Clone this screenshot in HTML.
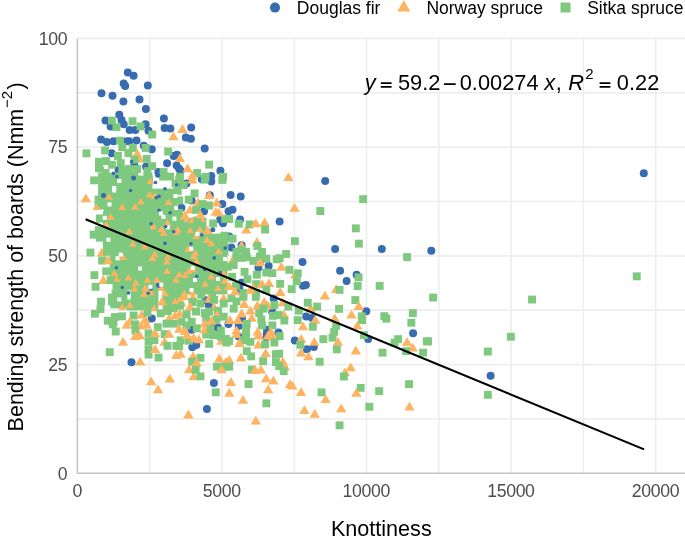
<!DOCTYPE html><html><head><meta charset="utf-8"><style>html,body{margin:0;padding:0;background:#fff;}svg{display:block;will-change:transform;}text{font-family:"Liberation Sans",sans-serif;}</style></head><body>
<svg width="685" height="537" viewBox="0 0 685 537">
<rect width="685" height="537" fill="#fff"/>
<path d="M149.7 38.4V473.3M222.0 38.4V473.3M294.3 38.4V473.3M366.5 38.4V473.3M438.8 38.4V473.3M511.1 38.4V473.3M583.4 38.4V473.3M655.7 38.4V473.3M77.4 418.9H685M77.4 364.6H685M77.4 310.2H685M77.4 255.8H685M77.4 201.5H685M77.4 147.1H685M77.4 92.8H685M77.4 38.4H685" stroke="#EEEEEE" stroke-width="1.7" fill="none"/>
<path d="M77.4 38.4V473.3H685" stroke="#C4C4C4" stroke-width="1.5" fill="none"/>
<circle cx="643.8" cy="173.2" r="4" fill="#386CB0"/>
<circle cx="381.8" cy="249.1" r="4" fill="#386CB0"/>
<circle cx="431.3" cy="250.7" r="4" fill="#386CB0"/>
<circle cx="413.1" cy="333.3" r="4" fill="#386CB0"/>
<circle cx="490.6" cy="375.8" r="4" fill="#386CB0"/>
<circle cx="325.2" cy="180.9" r="4" fill="#386CB0"/>
<circle cx="279.6" cy="221.4" r="4" fill="#386CB0"/>
<circle cx="335.1" cy="248.9" r="4" fill="#386CB0"/>
<circle cx="302.5" cy="262.0" r="4" fill="#386CB0"/>
<circle cx="340.1" cy="270.8" r="4" fill="#386CB0"/>
<circle cx="356.6" cy="274.7" r="4" fill="#386CB0"/>
<circle cx="303.0" cy="285.7" r="4" fill="#386CB0"/>
<circle cx="305.9" cy="285.0" r="4" fill="#386CB0"/>
<circle cx="346.6" cy="281.0" r="4" fill="#386CB0"/>
<circle cx="366.3" cy="311.3" r="4" fill="#386CB0"/>
<circle cx="306.2" cy="316.4" r="4" fill="#386CB0"/>
<circle cx="312.0" cy="317.9" r="4" fill="#386CB0"/>
<circle cx="278.5" cy="332.5" r="4" fill="#386CB0"/>
<circle cx="368.2" cy="339.1" r="4" fill="#386CB0"/>
<circle cx="294.8" cy="340.5" r="4" fill="#386CB0"/>
<circle cx="306.9" cy="349.3" r="4" fill="#386CB0"/>
<circle cx="313.8" cy="347.1" r="4" fill="#386CB0"/>
<circle cx="213.9" cy="383.0" r="4" fill="#386CB0"/>
<circle cx="206.9" cy="408.9" r="4" fill="#386CB0"/>
<circle cx="196.3" cy="345.0" r="4" fill="#386CB0"/>
<circle cx="192.3" cy="347.2" r="4" fill="#386CB0"/>
<circle cx="238.7" cy="336.6" r="4" fill="#386CB0"/>
<circle cx="266.8" cy="333.7" r="4" fill="#386CB0"/>
<circle cx="266.4" cy="337.4" r="4" fill="#386CB0"/>
<circle cx="205.5" cy="300.2" r="4" fill="#386CB0"/>
<circle cx="208.8" cy="305.0" r="4" fill="#386CB0"/>
<circle cx="191.6" cy="329.8" r="4" fill="#386CB0"/>
<circle cx="213.5" cy="326.8" r="4" fill="#386CB0"/>
<circle cx="217.9" cy="327.6" r="4" fill="#386CB0"/>
<circle cx="273.7" cy="298.4" r="4" fill="#386CB0"/>
<circle cx="242.0" cy="318.1" r="4" fill="#386CB0"/>
<circle cx="272.3" cy="312.2" r="4" fill="#386CB0"/>
<circle cx="228.5" cy="324.0" r="4" fill="#386CB0"/>
<circle cx="238.7" cy="326.1" r="4" fill="#386CB0"/>
<circle cx="267.1" cy="329.8" r="4" fill="#386CB0"/>
<circle cx="261.7" cy="259.4" r="4" fill="#386CB0"/>
<circle cx="258.4" cy="267.8" r="4" fill="#386CB0"/>
<circle cx="268.6" cy="266.0" r="4" fill="#386CB0"/>
<circle cx="241.6" cy="282.7" r="4" fill="#386CB0"/>
<circle cx="239.4" cy="289.3" r="4" fill="#386CB0"/>
<circle cx="240.1" cy="219.6" r="4" fill="#386CB0"/>
<circle cx="229.2" cy="236.4" r="4" fill="#386CB0"/>
<circle cx="231.4" cy="247.4" r="4" fill="#386CB0"/>
<circle cx="241.6" cy="245.2" r="4" fill="#386CB0"/>
<circle cx="220.1" cy="219.6" r="4" fill="#386CB0"/>
<circle cx="223.0" cy="223.3" r="4" fill="#386CB0"/>
<circle cx="230.6" cy="194.9" r="4" fill="#386CB0"/>
<circle cx="240.7" cy="196.6" r="4" fill="#386CB0"/>
<circle cx="232.5" cy="209.8" r="4" fill="#386CB0"/>
<circle cx="228.5" cy="211.3" r="4" fill="#386CB0"/>
<circle cx="186.5" cy="183.6" r="4" fill="#386CB0"/>
<circle cx="177.7" cy="185.0" r="4" fill="#386CB0"/>
<circle cx="201.8" cy="179.2" r="4" fill="#386CB0"/>
<circle cx="211.3" cy="181.4" r="4" fill="#386CB0"/>
<circle cx="209.8" cy="195.2" r="4" fill="#386CB0"/>
<circle cx="191.6" cy="200.4" r="4" fill="#386CB0"/>
<circle cx="181.4" cy="207.7" r="4" fill="#386CB0"/>
<circle cx="222.3" cy="204.0" r="4" fill="#386CB0"/>
<circle cx="204.0" cy="211.3" r="4" fill="#386CB0"/>
<circle cx="190.9" cy="138.7" r="4" fill="#386CB0"/>
<circle cx="185.8" cy="137.5" r="4" fill="#386CB0"/>
<circle cx="204.7" cy="148.6" r="4" fill="#386CB0"/>
<circle cx="177.0" cy="154.8" r="4" fill="#386CB0"/>
<circle cx="179.2" cy="168.7" r="4" fill="#386CB0"/>
<circle cx="180.6" cy="170.8" r="4" fill="#386CB0"/>
<circle cx="220.4" cy="170.8" r="4" fill="#386CB0"/>
<circle cx="211.3" cy="176.0" r="4" fill="#386CB0"/>
<circle cx="191.2" cy="127.5" r="4" fill="#386CB0"/>
<circle cx="119.3" cy="114.7" r="4" fill="#386CB0"/>
<circle cx="163.9" cy="118.4" r="4" fill="#386CB0"/>
<circle cx="105.5" cy="120.6" r="4" fill="#386CB0"/>
<circle cx="121.5" cy="119.9" r="4" fill="#386CB0"/>
<circle cx="123.7" cy="124.2" r="4" fill="#386CB0"/>
<circle cx="145.6" cy="124.2" r="4" fill="#386CB0"/>
<circle cx="110.6" cy="126.4" r="4" fill="#386CB0"/>
<circle cx="129.6" cy="130.1" r="4" fill="#386CB0"/>
<circle cx="135.4" cy="130.1" r="4" fill="#386CB0"/>
<circle cx="164.6" cy="127.9" r="4" fill="#386CB0"/>
<circle cx="170.4" cy="128.6" r="4" fill="#386CB0"/>
<circle cx="148.5" cy="130.8" r="4" fill="#386CB0"/>
<circle cx="101.1" cy="139.5" r="4" fill="#386CB0"/>
<circle cx="106.9" cy="142.0" r="4" fill="#386CB0"/>
<circle cx="113.5" cy="141.3" r="4" fill="#386CB0"/>
<circle cx="126.6" cy="141.3" r="4" fill="#386CB0"/>
<circle cx="111.7" cy="153.3" r="4" fill="#386CB0"/>
<circle cx="118.6" cy="169.8" r="4" fill="#386CB0"/>
<circle cx="136.5" cy="140.6" r="4" fill="#386CB0"/>
<circle cx="129.2" cy="141.3" r="4" fill="#386CB0"/>
<circle cx="143.8" cy="145.7" r="4" fill="#386CB0"/>
<circle cx="151.8" cy="149.3" r="4" fill="#386CB0"/>
<circle cx="134.3" cy="163.9" r="4" fill="#386CB0"/>
<circle cx="146.0" cy="166.8" r="4" fill="#386CB0"/>
<circle cx="167.1" cy="163.2" r="4" fill="#386CB0"/>
<circle cx="173.7" cy="155.9" r="4" fill="#386CB0"/>
<circle cx="176.6" cy="165.4" r="4" fill="#386CB0"/>
<circle cx="158.4" cy="172.0" r="4" fill="#386CB0"/>
<circle cx="151.8" cy="318.5" r="4" fill="#386CB0"/>
<circle cx="131.5" cy="362.3" r="4" fill="#386CB0"/>
<rect x="176.6" y="254.6" width="50.8" height="39.8" fill="#7FC97F"/>
<rect x="176.6" y="217.6" width="29.8" height="37.8" fill="#7FC97F"/>
<rect x="205.6" y="233.6" width="22.8" height="21.8" fill="#7FC97F"/>
<rect x="98.1" y="172.6" width="29.3" height="23.8" fill="#7FC97F"/>
<rect x="94.6" y="195.6" width="32.8" height="13.8" fill="#7FC97F"/>
<rect x="103.6" y="208.6" width="23.8" height="3.8" fill="#7FC97F"/>
<rect x="126.6" y="175.6" width="25.8" height="36.8" fill="#7FC97F"/>
<rect x="151.6" y="188.6" width="25.8" height="23.8" fill="#7FC97F"/>
<rect x="126.6" y="172.6" width="11.8" height="3.8" fill="#7FC97F"/>
<rect x="143.6" y="172.6" width="8.8" height="3.8" fill="#7FC97F"/>
<rect x="102.9" y="211.6" width="24.5" height="39.8" fill="#7FC97F"/>
<rect x="95.9" y="214.5" width="7.8" height="8.1" fill="#7FC97F"/>
<rect x="94.8" y="226.2" width="8.9" height="5.2" fill="#7FC97F"/>
<rect x="89.7" y="230.6" width="14.0" height="8.1" fill="#7FC97F"/>
<rect x="95.9" y="237.9" width="7.8" height="3.7" fill="#7FC97F"/>
<rect x="126.6" y="211.6" width="50.8" height="39.8" fill="#7FC97F"/>
<rect x="109.6" y="250.6" width="17.8" height="31.8" fill="#7FC97F"/>
<rect x="112.6" y="281.6" width="14.8" height="8.8" fill="#7FC97F"/>
<rect x="126.6" y="250.6" width="50.8" height="39.8" fill="#7FC97F"/>
<rect x="111.6" y="289.6" width="15.8" height="4.8" fill="#7FC97F"/>
<rect x="108.0" y="293.6" width="19.4" height="11.8" fill="#7FC97F"/>
<rect x="110.2" y="304.6" width="17.2" height="3.8" fill="#7FC97F"/>
<rect x="130.6" y="289.6" width="27.8" height="20.8" fill="#7FC97F"/>
<rect x="162.6" y="289.6" width="14.8" height="20.8" fill="#7FC97F"/>
<rect x="126.6" y="299.6" width="4.8" height="10.8" fill="#7FC97F"/>
<rect x="632.8" y="272.4" width="7.9" height="7.9" fill="#7FC97F"/>
<rect x="403.1" y="253.1" width="7.9" height="7.9" fill="#7FC97F"/>
<rect x="375.7" y="281.9" width="7.9" height="7.9" fill="#7FC97F"/>
<rect x="429.2" y="293.6" width="7.9" height="7.9" fill="#7FC97F"/>
<rect x="528.1" y="295.6" width="7.9" height="7.9" fill="#7FC97F"/>
<rect x="506.9" y="332.8" width="7.9" height="7.9" fill="#7FC97F"/>
<rect x="424.2" y="337.4" width="7.9" height="7.9" fill="#7FC97F"/>
<rect x="394.2" y="335.2" width="7.9" height="7.9" fill="#7FC97F"/>
<rect x="390.6" y="338.6" width="7.9" height="7.9" fill="#7FC97F"/>
<path d="M401.8 345.9L412.2 345.9L407.0 337.1Z" fill="#FDB462"/>
<path d="M407.5 351.6L417.9 351.6L412.7 342.7Z" fill="#FDB462"/>
<rect x="422.9" y="337.4" width="7.9" height="7.9" fill="#7FC97F"/>
<rect x="378.6" y="348.7" width="7.9" height="7.9" fill="#7FC97F"/>
<rect x="402.2" y="347.2" width="7.9" height="7.9" fill="#7FC97F"/>
<rect x="419.1" y="348.7" width="7.9" height="7.9" fill="#7FC97F"/>
<rect x="483.9" y="347.6" width="7.9" height="7.9" fill="#7FC97F"/>
<rect x="405.1" y="380.2" width="7.9" height="7.9" fill="#7FC97F"/>
<rect x="375.2" y="387.2" width="7.9" height="7.9" fill="#7FC97F"/>
<path d="M404.3 410.6L414.7 410.6L409.5 401.8Z" fill="#FDB462"/>
<rect x="483.9" y="390.9" width="7.9" height="7.9" fill="#7FC97F"/>
<path d="M283.2 181.0L293.6 181.0L288.4 172.2Z" fill="#FDB462"/>
<rect x="359.2" y="195.2" width="7.9" height="7.9" fill="#7FC97F"/>
<path d="M289.3 211.8L299.7 211.8L294.5 203.0Z" fill="#FDB462"/>
<rect x="316.4" y="207.1" width="7.9" height="7.9" fill="#7FC97F"/>
<rect x="351.9" y="224.4" width="7.9" height="7.9" fill="#7FC97F"/>
<rect x="290.9" y="237.2" width="7.9" height="7.9" fill="#7FC97F"/>
<rect x="354.9" y="239.7" width="7.9" height="7.9" fill="#7FC97F"/>
<rect x="282.2" y="250.0" width="7.9" height="7.9" fill="#7FC97F"/>
<rect x="275.7" y="254.2" width="7.9" height="7.9" fill="#7FC97F"/>
<path d="M276.2 270.8L286.6 270.8L281.4 261.9Z" fill="#FDB462"/>
<rect x="285.4" y="265.9" width="7.9" height="7.9" fill="#7FC97F"/>
<path d="M290.0 278.4L300.4 278.4L295.2 269.6Z" fill="#FDB462"/>
<rect x="354.6" y="273.4" width="7.9" height="7.9" fill="#7FC97F"/>
<rect x="293.8" y="269.4" width="7.9" height="7.9" fill="#7FC97F"/>
<rect x="276.2" y="279.9" width="7.9" height="7.9" fill="#7FC97F"/>
<rect x="292.8" y="277.4" width="7.9" height="7.9" fill="#7FC97F"/>
<rect x="287.7" y="285.2" width="7.9" height="7.9" fill="#7FC97F"/>
<path d="M330.9 293.1L341.3 293.1L336.1 284.2Z" fill="#FDB462"/>
<rect x="335.6" y="285.9" width="7.9" height="7.9" fill="#7FC97F"/>
<rect x="353.7" y="282.1" width="7.9" height="7.9" fill="#7FC97F"/>
<path d="M275.0 295.9L285.4 295.9L280.2 287.1Z" fill="#FDB462"/>
<path d="M319.7 299.6L330.1 299.6L324.9 290.8Z" fill="#FDB462"/>
<rect x="351.4" y="296.1" width="7.9" height="7.9" fill="#7FC97F"/>
<path d="M277.6 306.2L288.0 306.2L282.8 297.4Z" fill="#FDB462"/>
<rect x="284.4" y="302.6" width="7.9" height="7.9" fill="#7FC97F"/>
<path d="M305.4 312.1L315.8 312.1L310.6 303.2Z" fill="#FDB462"/>
<rect x="303.8" y="298.7" width="7.9" height="7.9" fill="#7FC97F"/>
<rect x="313.2" y="302.6" width="7.9" height="7.9" fill="#7FC97F"/>
<rect x="335.1" y="304.9" width="7.9" height="7.9" fill="#7FC97F"/>
<path d="M353.6 309.9L364.0 309.9L358.8 301.1Z" fill="#FDB462"/>
<rect x="294.9" y="306.7" width="7.9" height="7.9" fill="#7FC97F"/>
<path d="M278.8 318.6L289.2 318.6L284.0 309.8Z" fill="#FDB462"/>
<rect x="274.6" y="311.1" width="7.9" height="7.9" fill="#7FC97F"/>
<path d="M310.0 323.8L320.4 323.8L315.2 314.9Z" fill="#FDB462"/>
<path d="M346.3 318.6L356.7 318.6L351.5 309.8Z" fill="#FDB462"/>
<rect x="357.8" y="312.4" width="7.9" height="7.9" fill="#7FC97F"/>
<rect x="358.1" y="316.2" width="7.9" height="7.9" fill="#7FC97F"/>
<path d="M329.5 322.3L339.9 322.3L334.7 313.4Z" fill="#FDB462"/>
<rect x="280.4" y="316.6" width="7.9" height="7.9" fill="#7FC97F"/>
<rect x="293.8" y="316.2" width="7.9" height="7.9" fill="#7FC97F"/>
<path d="M297.8 330.3L308.2 330.3L303.0 321.4Z" fill="#FDB462"/>
<rect x="308.9" y="322.8" width="7.9" height="7.9" fill="#7FC97F"/>
<rect x="332.2" y="321.9" width="7.9" height="7.9" fill="#7FC97F"/>
<path d="M352.1 329.6L362.5 329.6L357.3 320.8Z" fill="#FDB462"/>
<rect x="330.2" y="327.9" width="7.9" height="7.9" fill="#7FC97F"/>
<rect x="275.7" y="332.2" width="7.9" height="7.9" fill="#7FC97F"/>
<rect x="359.9" y="331.2" width="7.9" height="7.9" fill="#7FC97F"/>
<rect x="319.4" y="335.2" width="7.9" height="7.9" fill="#7FC97F"/>
<rect x="328.6" y="333.7" width="7.9" height="7.9" fill="#7FC97F"/>
<path d="M295.9 342.8L306.3 342.8L301.1 333.9Z" fill="#FDB462"/>
<path d="M332.8 345.8L343.2 345.8L338.0 336.9Z" fill="#FDB462"/>
<path d="M309.0 345.8L319.4 345.8L314.2 336.9Z" fill="#FDB462"/>
<rect x="296.4" y="340.9" width="7.9" height="7.9" fill="#7FC97F"/>
<rect x="332.9" y="345.4" width="7.9" height="7.9" fill="#7FC97F"/>
<path d="M350.6 354.4L361.0 354.4L355.8 345.6Z" fill="#FDB462"/>
<path d="M295.9 356.6L306.3 356.6L301.1 347.8Z" fill="#FDB462"/>
<path d="M303.2 360.3L313.6 360.3L308.4 351.4Z" fill="#FDB462"/>
<rect x="275.2" y="349.8" width="7.9" height="7.9" fill="#7FC97F"/>
<rect x="315.7" y="357.8" width="7.9" height="7.9" fill="#7FC97F"/>
<path d="M277.6 365.4L288.0 365.4L282.8 356.6Z" fill="#FDB462"/>
<path d="M279.8 370.6L290.2 370.6L285.0 361.7Z" fill="#FDB462"/>
<rect x="275.2" y="362.2" width="7.9" height="7.9" fill="#7FC97F"/>
<rect x="279.7" y="367.2" width="7.9" height="7.9" fill="#7FC97F"/>
<path d="M345.5 371.2L355.9 371.2L350.7 362.4Z" fill="#FDB462"/>
<path d="M339.7 376.3L350.1 376.3L344.9 367.4Z" fill="#FDB462"/>
<path d="M284.9 388.1L295.3 388.1L290.1 379.2Z" fill="#FDB462"/>
<path d="M287.1 389.6L297.5 389.6L292.3 380.7Z" fill="#FDB462"/>
<path d="M295.9 396.1L306.3 396.1L301.1 387.2Z" fill="#FDB462"/>
<rect x="317.6" y="388.4" width="7.9" height="7.9" fill="#7FC97F"/>
<path d="M320.4 403.1L330.8 403.1L325.6 394.2Z" fill="#FDB462"/>
<rect x="339.9" y="372.6" width="7.9" height="7.9" fill="#7FC97F"/>
<rect x="356.7" y="383.9" width="7.9" height="7.9" fill="#7FC97F"/>
<path d="M351.1 396.8L361.5 396.8L356.3 387.9Z" fill="#FDB462"/>
<rect x="365.4" y="402.8" width="7.9" height="7.9" fill="#7FC97F"/>
<path d="M299.2 414.1L309.6 414.1L304.4 405.2Z" fill="#FDB462"/>
<path d="M309.5 417.8L319.9 417.8L314.7 408.9Z" fill="#FDB462"/>
<path d="M336.0 412.2L346.4 412.2L341.2 403.4Z" fill="#FDB462"/>
<rect x="335.6" y="421.4" width="7.9" height="7.9" fill="#7FC97F"/>
<path d="M188.6 380.1L199.0 380.1L193.8 371.2Z" fill="#FDB462"/>
<rect x="196.5" y="372.4" width="7.9" height="7.9" fill="#7FC97F"/>
<path d="M225.8 385.9L236.2 385.9L231.0 377.1Z" fill="#FDB462"/>
<rect x="244.6" y="380.1" width="7.9" height="7.9" fill="#7FC97F"/>
<path d="M260.9 382.2L271.3 382.2L266.1 373.4Z" fill="#FDB462"/>
<path d="M268.2 384.4L278.6 384.4L273.4 375.6Z" fill="#FDB462"/>
<rect x="211.8" y="388.4" width="7.9" height="7.9" fill="#7FC97F"/>
<path d="M224.1 396.8L234.5 396.8L229.3 387.9Z" fill="#FDB462"/>
<path d="M263.0 393.2L273.4 393.2L268.2 384.4Z" fill="#FDB462"/>
<path d="M237.9 403.8L248.3 403.8L243.1 394.9Z" fill="#FDB462"/>
<rect x="262.4" y="399.4" width="7.9" height="7.9" fill="#7FC97F"/>
<path d="M183.2 418.4L193.6 418.4L188.4 409.6Z" fill="#FDB462"/>
<path d="M250.6 424.6L261.0 424.6L255.8 415.8Z" fill="#FDB462"/>
<path d="M146.0 385.2L156.4 385.2L151.2 376.4Z" fill="#FDB462"/>
<path d="M152.8 393.2L163.2 393.2L158.0 384.4Z" fill="#FDB462"/>
<path d="M164.6 382.6L175.0 382.6L169.8 373.7Z" fill="#FDB462"/>
<rect x="176.7" y="336.4" width="7.9" height="7.9" fill="#7FC97F"/>
<rect x="184.8" y="336.8" width="7.9" height="7.9" fill="#7FC97F"/>
<rect x="175.2" y="342.2" width="7.9" height="7.9" fill="#7FC97F"/>
<path d="M182.0 338.9L192.4 338.9L187.2 330.1Z" fill="#FDB462"/>
<path d="M188.6 341.8L199.0 341.8L193.8 332.9Z" fill="#FDB462"/>
<path d="M193.7 343.2L204.1 343.2L198.9 334.4Z" fill="#FDB462"/>
<path d="M216.3 344.8L226.7 344.8L221.5 335.9Z" fill="#FDB462"/>
<rect x="202.2" y="330.6" width="7.9" height="7.9" fill="#7FC97F"/>
<rect x="209.6" y="331.2" width="7.9" height="7.9" fill="#7FC97F"/>
<rect x="216.9" y="332.7" width="7.9" height="7.9" fill="#7FC97F"/>
<rect x="222.0" y="334.9" width="7.9" height="7.9" fill="#7FC97F"/>
<rect x="222.7" y="338.6" width="7.9" height="7.9" fill="#7FC97F"/>
<rect x="205.2" y="339.9" width="7.9" height="7.9" fill="#7FC97F"/>
<path d="M175.4 357.8L185.8 357.8L180.6 348.9Z" fill="#FDB462"/>
<rect x="196.5" y="353.9" width="7.9" height="7.9" fill="#7FC97F"/>
<path d="M187.9 360.1L198.3 360.1L193.1 351.2Z" fill="#FDB462"/>
<rect x="188.1" y="357.9" width="7.9" height="7.9" fill="#7FC97F"/>
<path d="M191.5 366.6L201.9 366.6L196.7 357.8Z" fill="#FDB462"/>
<path d="M214.1 362.2L224.5 362.2L219.3 353.4Z" fill="#FDB462"/>
<path d="M220.7 365.9L231.1 365.9L225.9 357.1Z" fill="#FDB462"/>
<rect x="212.9" y="362.7" width="7.9" height="7.9" fill="#7FC97F"/>
<rect x="220.2" y="362.7" width="7.9" height="7.9" fill="#7FC97F"/>
<path d="M183.8 373.2L194.2 373.2L189.0 364.4Z" fill="#FDB462"/>
<rect x="191.7" y="365.9" width="7.9" height="7.9" fill="#7FC97F"/>
<path d="M216.3 373.2L226.7 373.2L221.5 364.4Z" fill="#FDB462"/>
<path d="M231.3 338.1L241.7 338.1L236.5 329.2Z" fill="#FDB462"/>
<path d="M253.2 339.6L263.6 339.6L258.4 330.8Z" fill="#FDB462"/>
<path d="M262.7 339.6L273.1 339.6L267.9 330.8Z" fill="#FDB462"/>
<path d="M267.1 340.3L277.5 340.3L272.3 331.4Z" fill="#FDB462"/>
<rect x="242.1" y="330.9" width="7.9" height="7.9" fill="#7FC97F"/>
<rect x="225.2" y="337.1" width="7.9" height="7.9" fill="#7FC97F"/>
<rect x="239.9" y="336.4" width="7.9" height="7.9" fill="#7FC97F"/>
<rect x="246.5" y="337.9" width="7.9" height="7.9" fill="#7FC97F"/>
<path d="M234.2 346.9L244.6 346.9L239.4 338.1Z" fill="#FDB462"/>
<path d="M253.2 348.4L263.6 348.4L258.4 339.6Z" fill="#FDB462"/>
<rect x="261.1" y="340.4" width="7.9" height="7.9" fill="#7FC97F"/>
<rect x="270.4" y="338.6" width="7.9" height="7.9" fill="#7FC97F"/>
<rect x="242.8" y="347.2" width="7.9" height="7.9" fill="#7FC97F"/>
<rect x="247.2" y="352.4" width="7.9" height="7.9" fill="#7FC97F"/>
<path d="M260.5 357.1L270.9 357.1L265.7 348.2Z" fill="#FDB462"/>
<path d="M235.7 361.6L246.1 361.6L240.9 352.7Z" fill="#FDB462"/>
<path d="M224.0 363.8L234.4 363.8L229.2 354.9Z" fill="#FDB462"/>
<rect x="225.2" y="362.7" width="7.9" height="7.9" fill="#7FC97F"/>
<rect x="259.2" y="357.2" width="7.9" height="7.9" fill="#7FC97F"/>
<rect x="271.9" y="350.2" width="7.9" height="7.9" fill="#7FC97F"/>
<rect x="271.9" y="358.2" width="7.9" height="7.9" fill="#7FC97F"/>
<rect x="247.9" y="365.6" width="7.9" height="7.9" fill="#7FC97F"/>
<path d="M249.9 373.9L260.3 373.9L255.1 365.1Z" fill="#FDB462"/>
<path d="M255.7 373.6L266.1 373.6L260.9 364.7Z" fill="#FDB462"/>
<rect x="175.2" y="292.2" width="7.9" height="7.9" fill="#7FC97F"/>
<rect x="197.2" y="290.8" width="7.9" height="7.9" fill="#7FC97F"/>
<rect x="208.1" y="292.2" width="7.9" height="7.9" fill="#7FC97F"/>
<path d="M179.1 299.9L189.5 299.9L184.3 291.1Z" fill="#FDB462"/>
<path d="M187.9 301.3L198.3 301.3L193.1 292.4Z" fill="#FDB462"/>
<path d="M174.0 305.1L184.4 305.1L179.2 296.2Z" fill="#FDB462"/>
<path d="M176.2 306.4L186.6 306.4L181.4 297.6Z" fill="#FDB462"/>
<rect x="188.4" y="298.1" width="7.9" height="7.9" fill="#7FC97F"/>
<rect x="196.5" y="299.6" width="7.9" height="7.9" fill="#7FC97F"/>
<path d="M203.9 302.8L214.3 302.8L209.1 293.9Z" fill="#FDB462"/>
<rect x="210.2" y="295.9" width="7.9" height="7.9" fill="#7FC97F"/>
<path d="M218.5 302.1L228.9 302.1L223.7 293.2Z" fill="#FDB462"/>
<rect x="219.8" y="299.6" width="7.9" height="7.9" fill="#7FC97F"/>
<path d="M184.9 310.8L195.3 310.8L190.1 301.9Z" fill="#FDB462"/>
<path d="M209.0 311.2L219.4 311.2L214.2 302.4Z" fill="#FDB462"/>
<rect x="176.0" y="301.8" width="7.9" height="7.9" fill="#7FC97F"/>
<path d="M174.7 317.4L185.1 317.4L179.9 308.6Z" fill="#FDB462"/>
<rect x="182.6" y="310.4" width="7.9" height="7.9" fill="#7FC97F"/>
<rect x="192.1" y="307.6" width="7.9" height="7.9" fill="#7FC97F"/>
<rect x="200.8" y="309.1" width="7.9" height="7.9" fill="#7FC97F"/>
<rect x="205.2" y="307.6" width="7.9" height="7.9" fill="#7FC97F"/>
<rect x="214.0" y="306.9" width="7.9" height="7.9" fill="#7FC97F"/>
<path d="M211.9 318.8L222.3 318.8L217.1 309.9Z" fill="#FDB462"/>
<rect x="219.8" y="312.7" width="7.9" height="7.9" fill="#7FC97F"/>
<rect x="212.5" y="315.6" width="7.9" height="7.9" fill="#7FC97F"/>
<rect x="202.2" y="314.2" width="7.9" height="7.9" fill="#7FC97F"/>
<rect x="187.7" y="317.8" width="7.9" height="7.9" fill="#7FC97F"/>
<rect x="177.5" y="317.8" width="7.9" height="7.9" fill="#7FC97F"/>
<path d="M206.1 324.8L216.5 324.8L211.3 315.9Z" fill="#FDB462"/>
<path d="M199.5 327.6L209.9 327.6L204.7 318.8Z" fill="#FDB462"/>
<rect x="182.6" y="321.4" width="7.9" height="7.9" fill="#7FC97F"/>
<path d="M174.0 332.8L184.4 332.8L179.2 323.9Z" fill="#FDB462"/>
<path d="M179.8 334.9L190.2 334.9L185.0 326.1Z" fill="#FDB462"/>
<rect x="192.8" y="324.4" width="7.9" height="7.9" fill="#7FC97F"/>
<path d="M199.5 333.4L209.9 333.4L204.7 324.6Z" fill="#FDB462"/>
<rect x="206.7" y="325.1" width="7.9" height="7.9" fill="#7FC97F"/>
<rect x="216.9" y="326.6" width="7.9" height="7.9" fill="#7FC97F"/>
<rect x="239.5" y="292.9" width="7.9" height="7.9" fill="#7FC97F"/>
<rect x="251.9" y="292.9" width="7.9" height="7.9" fill="#7FC97F"/>
<rect x="227.5" y="294.4" width="7.9" height="7.9" fill="#7FC97F"/>
<rect x="232.6" y="297.4" width="7.9" height="7.9" fill="#7FC97F"/>
<rect x="229.7" y="304.7" width="7.9" height="7.9" fill="#7FC97F"/>
<path d="M239.0 307.9L249.4 307.9L244.2 299.1Z" fill="#FDB462"/>
<path d="M252.1 309.4L262.5 309.4L257.3 300.6Z" fill="#FDB462"/>
<path d="M259.0 305.8L269.4 305.8L264.2 296.9Z" fill="#FDB462"/>
<path d="M262.7 309.4L273.1 309.4L267.9 300.6Z" fill="#FDB462"/>
<rect x="270.4" y="301.1" width="7.9" height="7.9" fill="#7FC97F"/>
<rect x="259.6" y="304.7" width="7.9" height="7.9" fill="#7FC97F"/>
<rect x="255.2" y="309.1" width="7.9" height="7.9" fill="#7FC97F"/>
<path d="M245.2 314.6L255.6 314.6L250.4 305.7Z" fill="#FDB462"/>
<path d="M236.4 317.4L246.8 317.4L241.6 308.6Z" fill="#FDB462"/>
<path d="M246.6 321.8L257.0 321.8L251.8 312.9Z" fill="#FDB462"/>
<path d="M224.7 323.9L235.1 323.9L229.9 315.1Z" fill="#FDB462"/>
<path d="M232.8 323.9L243.2 323.9L238.0 315.1Z" fill="#FDB462"/>
<rect x="269.1" y="311.9" width="7.9" height="7.9" fill="#7FC97F"/>
<rect x="257.4" y="315.6" width="7.9" height="7.9" fill="#7FC97F"/>
<rect x="242.8" y="319.9" width="7.9" height="7.9" fill="#7FC97F"/>
<rect x="268.4" y="321.4" width="7.9" height="7.9" fill="#7FC97F"/>
<rect x="258.1" y="321.4" width="7.9" height="7.9" fill="#7FC97F"/>
<path d="M231.3 334.2L241.7 334.2L236.5 325.4Z" fill="#FDB462"/>
<path d="M252.5 335.6L262.9 335.6L257.7 326.8Z" fill="#FDB462"/>
<path d="M265.6 335.6L276.0 335.6L270.8 326.8Z" fill="#FDB462"/>
<rect x="242.1" y="326.6" width="7.9" height="7.9" fill="#7FC97F"/>
<path d="M189.9 259.0L197.7 259.0L193.8 252.4Z" fill="#FDB462"/>
<path d="M192.8 264.1L200.6 264.1L196.7 257.5Z" fill="#FDB462"/>
<path d="M175.3 277.3L183.1 277.3L179.2 270.7Z" fill="#FDB462"/>
<path d="M184.8 274.0L192.6 274.0L188.7 267.4Z" fill="#FDB462"/>
<path d="M188.8 272.2L196.6 272.2L192.7 265.6Z" fill="#FDB462"/>
<path d="M181.1 278.0L188.9 278.0L185.0 271.4Z" fill="#FDB462"/>
<path d="M201.2 286.8L209.0 286.8L205.1 280.2Z" fill="#FDB462"/>
<path d="M207.4 279.5L215.2 279.5L211.3 272.9Z" fill="#FDB462"/>
<path d="M214.0 291.1L221.8 291.1L217.9 284.5Z" fill="#FDB462"/>
<path d="M219.8 276.5L227.6 276.5L223.7 269.9Z" fill="#FDB462"/>
<path d="M220.6 283.8L228.4 283.8L224.5 277.2Z" fill="#FDB462"/>
<path d="M180.4 296.3L188.2 296.3L184.3 289.7Z" fill="#FDB462"/>
<path d="M188.4 295.5L196.2 295.5L192.3 288.9Z" fill="#FDB462"/>
<path d="M228.0 263.1L238.4 263.1L233.2 254.2Z" fill="#FDB462"/>
<rect x="232.6" y="253.2" width="7.9" height="7.9" fill="#7FC97F"/>
<rect x="237.7" y="253.9" width="7.9" height="7.9" fill="#7FC97F"/>
<rect x="242.8" y="253.2" width="7.9" height="7.9" fill="#7FC97F"/>
<rect x="249.4" y="256.9" width="7.9" height="7.9" fill="#7FC97F"/>
<rect x="255.9" y="252.6" width="7.9" height="7.9" fill="#7FC97F"/>
<rect x="262.4" y="254.7" width="7.9" height="7.9" fill="#7FC97F"/>
<path d="M255.0 266.3L265.4 266.3L260.2 257.4Z" fill="#FDB462"/>
<rect x="229.7" y="261.2" width="7.9" height="7.9" fill="#7FC97F"/>
<rect x="223.8" y="262.8" width="7.9" height="7.9" fill="#7FC97F"/>
<rect x="240.6" y="267.9" width="7.9" height="7.9" fill="#7FC97F"/>
<rect x="252.9" y="270.8" width="7.9" height="7.9" fill="#7FC97F"/>
<rect x="262.4" y="268.6" width="7.9" height="7.9" fill="#7FC97F"/>
<rect x="268.4" y="269.2" width="7.9" height="7.9" fill="#7FC97F"/>
<rect x="228.2" y="272.9" width="7.9" height="7.9" fill="#7FC97F"/>
<rect x="243.5" y="275.2" width="7.9" height="7.9" fill="#7FC97F"/>
<rect x="231.9" y="281.8" width="7.9" height="7.9" fill="#7FC97F"/>
<rect x="252.2" y="280.2" width="7.9" height="7.9" fill="#7FC97F"/>
<path d="M256.8 287.9L267.2 287.9L262.0 279.1Z" fill="#FDB462"/>
<path d="M263.8 287.1L274.2 287.1L269.0 278.2Z" fill="#FDB462"/>
<path d="M248.1 291.6L258.5 291.6L253.3 282.7Z" fill="#FDB462"/>
<path d="M224.0 290.1L234.4 290.1L229.2 281.2Z" fill="#FDB462"/>
<path d="M229.8 295.2L240.2 295.2L235.0 286.4Z" fill="#FDB462"/>
<rect x="262.4" y="286.1" width="7.9" height="7.9" fill="#7FC97F"/>
<rect x="252.2" y="288.7" width="7.9" height="7.9" fill="#7FC97F"/>
<rect x="239.2" y="289.1" width="7.9" height="7.9" fill="#7FC97F"/>
<path d="M245.2 293.8L255.6 293.8L250.4 284.9Z" fill="#FDB462"/>
<rect x="272.7" y="255.4" width="7.9" height="7.9" fill="#7FC97F"/>
<rect x="225.2" y="215.0" width="7.9" height="7.9" fill="#7FC97F"/>
<rect x="234.8" y="219.8" width="7.9" height="7.9" fill="#7FC97F"/>
<path d="M241.1 233.5L251.5 233.5L246.3 224.7Z" fill="#FDB462"/>
<rect x="245.7" y="220.5" width="7.9" height="7.9" fill="#7FC97F"/>
<path d="M250.6 227.3L261.0 227.3L255.8 218.5Z" fill="#FDB462"/>
<path d="M259.4 226.2L269.8 226.2L264.6 217.4Z" fill="#FDB462"/>
<rect x="261.1" y="225.6" width="7.9" height="7.9" fill="#7FC97F"/>
<rect x="228.6" y="234.7" width="7.9" height="7.9" fill="#7FC97F"/>
<path d="M236.4 249.2L246.8 249.2L241.6 240.4Z" fill="#FDB462"/>
<rect x="237.7" y="245.7" width="7.9" height="7.9" fill="#7FC97F"/>
<rect x="232.6" y="247.9" width="7.9" height="7.9" fill="#7FC97F"/>
<rect x="242.1" y="247.9" width="7.9" height="7.9" fill="#7FC97F"/>
<path d="M251.7 245.9L262.1 245.9L256.9 237.1Z" fill="#FDB462"/>
<rect x="253.4" y="242.0" width="7.9" height="7.9" fill="#7FC97F"/>
<rect x="258.1" y="247.9" width="7.9" height="7.9" fill="#7FC97F"/>
<path d="M181.1 222.2L188.9 222.2L185.0 215.6Z" fill="#FDB462"/>
<path d="M188.4 223.3L196.2 223.3L192.3 216.7Z" fill="#FDB462"/>
<path d="M195.2 221.9L205.6 221.9L200.4 213.1Z" fill="#FDB462"/>
<rect x="176.0" y="215.7" width="7.9" height="7.9" fill="#7FC97F"/>
<rect x="193.5" y="216.5" width="7.9" height="7.9" fill="#7FC97F"/>
<rect x="209.2" y="219.4" width="7.9" height="7.9" fill="#7FC97F"/>
<rect x="221.2" y="215.0" width="7.9" height="7.9" fill="#7FC97F"/>
<rect x="179.7" y="223.1" width="7.9" height="7.9" fill="#7FC97F"/>
<rect x="191.2" y="223.1" width="7.9" height="7.9" fill="#7FC97F"/>
<path d="M173.8 232.4L181.6 232.4L177.7 225.8Z" fill="#FDB462"/>
<path d="M186.2 233.2L194.0 233.2L190.1 226.6Z" fill="#FDB462"/>
<path d="M195.7 232.4L203.5 232.4L199.6 225.8Z" fill="#FDB462"/>
<path d="M202.5 234.3L212.9 234.3L207.7 225.5Z" fill="#FDB462"/>
<path d="M203.0 242.7L210.8 242.7L206.9 236.1Z" fill="#FDB462"/>
<rect x="215.4" y="234.0" width="7.9" height="7.9" fill="#7FC97F"/>
<rect x="220.6" y="231.8" width="7.9" height="7.9" fill="#7FC97F"/>
<rect x="209.6" y="242.8" width="7.9" height="7.9" fill="#7FC97F"/>
<path d="M207.4 246.3L215.2 246.3L211.3 239.7Z" fill="#FDB462"/>
<rect x="216.9" y="244.9" width="7.9" height="7.9" fill="#7FC97F"/>
<path d="M214.7 254.3L222.5 254.3L218.6 247.7Z" fill="#FDB462"/>
<rect x="177.5" y="234.0" width="7.9" height="7.9" fill="#7FC97F"/>
<rect x="186.2" y="233.2" width="7.9" height="7.9" fill="#7FC97F"/>
<path d="M192.1 239.0L199.9 239.0L196.0 232.4Z" fill="#FDB462"/>
<path d="M184.1 252.1L191.9 252.1L188.0 245.5Z" fill="#FDB462"/>
<path d="M191.3 255.8L199.1 255.8L195.2 249.2Z" fill="#FDB462"/>
<path d="M187.1 183.6L197.5 183.6L192.3 174.8Z" fill="#FDB462"/>
<rect x="175.2" y="176.0" width="7.9" height="7.9" fill="#7FC97F"/>
<rect x="179.7" y="181.1" width="7.9" height="7.9" fill="#7FC97F"/>
<rect x="173.8" y="187.0" width="7.9" height="7.9" fill="#7FC97F"/>
<rect x="200.8" y="175.7" width="7.9" height="7.9" fill="#7FC97F"/>
<rect x="218.4" y="176.0" width="7.9" height="7.9" fill="#7FC97F"/>
<path d="M203.9 198.9L214.3 198.9L209.1 190.1Z" fill="#FDB462"/>
<rect x="190.6" y="189.5" width="7.9" height="7.9" fill="#7FC97F"/>
<rect x="184.8" y="195.7" width="7.9" height="7.9" fill="#7FC97F"/>
<rect x="175.2" y="196.5" width="7.9" height="7.9" fill="#7FC97F"/>
<rect x="175.2" y="208.9" width="7.9" height="7.9" fill="#7FC97F"/>
<path d="M193.0 206.2L203.4 206.2L198.2 197.4Z" fill="#FDB462"/>
<rect x="198.6" y="200.1" width="7.9" height="7.9" fill="#7FC97F"/>
<rect x="205.2" y="201.6" width="7.9" height="7.9" fill="#7FC97F"/>
<path d="M211.6 206.6L222.0 206.6L216.8 197.8Z" fill="#FDB462"/>
<path d="M184.9 213.5L195.3 213.5L190.1 204.7Z" fill="#FDB462"/>
<rect x="192.1" y="205.9" width="7.9" height="7.9" fill="#7FC97F"/>
<path d="M210.5 215.8L220.9 215.8L215.7 206.9Z" fill="#FDB462"/>
<path d="M213.4 216.4L223.8 216.4L218.6 207.6Z" fill="#FDB462"/>
<path d="M195.2 218.6L205.6 218.6L200.4 209.8Z" fill="#FDB462"/>
<path d="M179.8 219.4L190.2 219.4L185.0 210.6Z" fill="#FDB462"/>
<path d="M174.7 162.1L185.1 162.1L179.9 153.2Z" fill="#FDB462"/>
<path d="M182.4 172.3L192.8 172.3L187.6 163.5Z" fill="#FDB462"/>
<rect x="205.2" y="160.7" width="7.9" height="7.9" fill="#7FC97F"/>
<rect x="193.2" y="169.1" width="7.9" height="7.9" fill="#7FC97F"/>
<rect x="201.6" y="172.8" width="7.9" height="7.9" fill="#7FC97F"/>
<path d="M187.1 179.6L197.5 179.6L192.3 170.8Z" fill="#FDB462"/>
<rect x="176.0" y="172.8" width="7.9" height="7.9" fill="#7FC97F"/>
<rect x="219.1" y="172.8" width="7.9" height="7.9" fill="#7FC97F"/>
<path d="M177.3 133.0L187.7 133.0L182.5 124.1Z" fill="#FDB462"/>
<rect x="108.0" y="116.6" width="7.9" height="7.9" fill="#7FC97F"/>
<rect x="128.6" y="117.3" width="7.9" height="7.9" fill="#7FC97F"/>
<rect x="112.5" y="123.2" width="7.9" height="7.9" fill="#7FC97F"/>
<rect x="136.6" y="122.5" width="7.9" height="7.9" fill="#7FC97F"/>
<rect x="148.2" y="130.6" width="7.9" height="7.9" fill="#7FC97F"/>
<path d="M168.2 140.3L178.6 140.3L173.4 131.5Z" fill="#FDB462"/>
<rect x="116.1" y="136.7" width="7.9" height="7.9" fill="#7FC97F"/>
<rect x="118.3" y="143.2" width="7.9" height="7.9" fill="#7FC97F"/>
<rect x="82.5" y="149.4" width="7.9" height="7.9" fill="#7FC97F"/>
<rect x="101.1" y="146.5" width="7.9" height="7.9" fill="#7FC97F"/>
<rect x="114.0" y="152.0" width="7.9" height="7.9" fill="#7FC97F"/>
<rect x="95.0" y="157.8" width="7.9" height="7.9" fill="#7FC97F"/>
<rect x="102.2" y="157.1" width="7.9" height="7.9" fill="#7FC97F"/>
<rect x="95.0" y="164.4" width="7.9" height="7.9" fill="#7FC97F"/>
<rect x="101.5" y="166.6" width="7.9" height="7.9" fill="#7FC97F"/>
<rect x="108.0" y="160.8" width="7.9" height="7.9" fill="#7FC97F"/>
<rect x="116.8" y="159.2" width="7.9" height="7.9" fill="#7FC97F"/>
<rect x="118.3" y="166.6" width="7.9" height="7.9" fill="#7FC97F"/>
<rect x="141.7" y="144.0" width="7.9" height="7.9" fill="#7FC97F"/>
<rect x="128.9" y="144.0" width="7.9" height="7.9" fill="#7FC97F"/>
<rect x="124.5" y="149.1" width="7.9" height="7.9" fill="#7FC97F"/>
<path d="M132.0 157.4L142.4 157.4L137.2 148.6Z" fill="#FDB462"/>
<path d="M134.2 162.5L144.6 162.5L139.4 153.7Z" fill="#FDB462"/>
<rect x="130.4" y="155.6" width="7.9" height="7.9" fill="#7FC97F"/>
<rect x="142.8" y="154.9" width="7.9" height="7.9" fill="#7FC97F"/>
<rect x="148.2" y="162.2" width="7.9" height="7.9" fill="#7FC97F"/>
<rect x="133.2" y="165.1" width="7.9" height="7.9" fill="#7FC97F"/>
<rect x="143.5" y="167.2" width="7.9" height="7.9" fill="#7FC97F"/>
<rect x="125.2" y="165.1" width="7.9" height="7.9" fill="#7FC97F"/>
<rect x="164.2" y="147.6" width="7.9" height="7.9" fill="#7FC97F"/>
<rect x="159.6" y="168.1" width="7.9" height="7.9" fill="#7FC97F"/>
<rect x="90.2" y="176.4" width="7.9" height="7.9" fill="#7FC97F"/>
<path d="M80.6 202.2L91.0 202.2L85.8 193.4Z" fill="#FDB462"/>
<path d="M105.2 199.8L113.0 199.8L109.1 193.2Z" fill="#FDB462"/>
<path d="M92.4 209.9L100.2 209.9L96.3 203.3Z" fill="#FDB462"/>
<path d="M118.4 209.9L126.2 209.9L122.3 203.3Z" fill="#FDB462"/>
<rect x="159.1" y="172.6" width="7.9" height="7.9" fill="#7FC97F"/>
<rect x="166.1" y="172.6" width="7.9" height="7.9" fill="#7FC97F"/>
<rect x="171.6" y="179.6" width="7.9" height="7.9" fill="#7FC97F"/>
<rect x="145.1" y="176.6" width="7.9" height="7.9" fill="#7FC97F"/>
<path d="M146.5 184.0L154.3 184.0L150.4 177.4Z" fill="#FDB462"/>
<path d="M145.7 197.5L153.5 197.5L149.6 190.9Z" fill="#FDB462"/>
<path d="M150.8 198.9L158.6 198.9L154.7 192.3Z" fill="#FDB462"/>
<path d="M137.0 204.4L144.8 204.4L140.9 197.8Z" fill="#FDB462"/>
<path d="M131.1 209.5L138.9 209.5L135.0 202.9Z" fill="#FDB462"/>
<path d="M164.7 205.1L172.5 205.1L168.6 198.5Z" fill="#FDB462"/>
<rect x="86.5" y="248.6" width="7.9" height="7.9" fill="#7FC97F"/>
<path d="M106.7 219.8L114.5 219.8L110.6 213.2Z" fill="#FDB462"/>
<path d="M102.3 227.8L110.1 227.8L106.2 221.2Z" fill="#FDB462"/>
<path d="M163.6 225.8L171.4 225.8L167.5 219.2Z" fill="#FDB462"/>
<path d="M149.4 229.2L157.2 229.2L153.3 222.6Z" fill="#FDB462"/>
<path d="M157.4 232.1L165.2 232.1L161.3 225.5Z" fill="#FDB462"/>
<path d="M159.6 235.7L167.4 235.7L163.5 229.1Z" fill="#FDB462"/>
<path d="M125.3 234.3L133.1 234.3L129.2 227.7Z" fill="#FDB462"/>
<path d="M172.0 235.0L179.8 235.0L175.9 228.4Z" fill="#FDB462"/>
<path d="M128.9 246.7L136.7 246.7L132.8 240.1Z" fill="#FDB462"/>
<path d="M140.6 249.6L148.4 249.6L144.5 243.0Z" fill="#FDB462"/>
<path d="M96.6 256.6L107.0 256.6L101.8 247.7Z" fill="#FDB462"/>
<rect x="103.0" y="247.8" width="7.9" height="7.9" fill="#7FC97F"/>
<rect x="98.2" y="256.6" width="7.9" height="7.9" fill="#7FC97F"/>
<path d="M102.8 264.2L113.2 264.2L108.0 255.4Z" fill="#FDB462"/>
<rect x="102.2" y="267.4" width="7.9" height="7.9" fill="#7FC97F"/>
<rect x="90.5" y="271.2" width="7.9" height="7.9" fill="#7FC97F"/>
<path d="M98.1 283.9L108.5 283.9L103.3 275.1Z" fill="#FDB462"/>
<path d="M110.3 276.2L118.1 276.2L114.2 269.6Z" fill="#FDB462"/>
<path d="M112.5 282.0L120.3 282.0L116.4 275.4Z" fill="#FDB462"/>
<rect x="106.6" y="276.2" width="7.9" height="7.9" fill="#7FC97F"/>
<rect x="91.6" y="282.9" width="7.9" height="7.9" fill="#7FC97F"/>
<path d="M119.1 260.1L126.9 260.1L123.0 253.5Z" fill="#FDB462"/>
<path d="M150.8 257.2L158.6 257.2L154.7 250.6Z" fill="#FDB462"/>
<path d="M148.6 260.9L156.4 260.9L152.5 254.3Z" fill="#FDB462"/>
<path d="M164.0 260.1L171.8 260.1L167.9 253.5Z" fill="#FDB462"/>
<path d="M162.9 264.5L170.7 264.5L166.8 257.9Z" fill="#FDB462"/>
<path d="M163.2 274.0L171.0 274.0L167.1 267.4Z" fill="#FDB462"/>
<path d="M143.5 282.8L151.3 282.8L147.4 276.2Z" fill="#FDB462"/>
<path d="M153.0 282.8L160.8 282.8L156.9 276.2Z" fill="#FDB462"/>
<path d="M131.9 285.7L139.7 285.7L135.8 279.1Z" fill="#FDB462"/>
<path d="M124.6 280.6L132.4 280.6L128.5 274.0Z" fill="#FDB462"/>
<path d="M141.3 290.8L149.1 290.8L145.2 284.2Z" fill="#FDB462"/>
<path d="M157.4 290.8L165.2 290.8L161.3 284.2Z" fill="#FDB462"/>
<path d="M130.4 291.5L138.2 291.5L134.3 284.9Z" fill="#FDB462"/>
<path d="M172.0 282.8L179.8 282.8L175.9 276.2Z" fill="#FDB462"/>
<rect x="97.1" y="297.8" width="7.9" height="7.9" fill="#7FC97F"/>
<rect x="96.5" y="305.1" width="7.9" height="7.9" fill="#7FC97F"/>
<rect x="91.0" y="309.8" width="7.9" height="7.9" fill="#7FC97F"/>
<path d="M118.4 310.1L126.2 310.1L122.3 303.5Z" fill="#FDB462"/>
<rect x="103.8" y="316.8" width="7.9" height="7.9" fill="#7FC97F"/>
<rect x="109.5" y="318.2" width="7.9" height="7.9" fill="#7FC97F"/>
<rect x="111.0" y="313.1" width="7.9" height="7.9" fill="#7FC97F"/>
<rect x="118.0" y="312.4" width="7.9" height="7.9" fill="#7FC97F"/>
<rect x="108.8" y="320.4" width="7.9" height="7.9" fill="#7FC97F"/>
<path d="M121.4 328.8L131.8 328.8L126.6 319.9Z" fill="#FDB462"/>
<rect x="111.8" y="327.6" width="7.9" height="7.9" fill="#7FC97F"/>
<path d="M126.0 307.9L133.8 307.9L129.9 301.3Z" fill="#FDB462"/>
<path d="M142.8 294.4L150.6 294.4L146.7 287.8Z" fill="#FDB462"/>
<path d="M139.9 296.9L147.7 296.9L143.8 290.3Z" fill="#FDB462"/>
<path d="M147.2 295.5L155.0 295.5L151.1 288.9Z" fill="#FDB462"/>
<path d="M150.1 311.2L157.9 311.2L154.0 304.6Z" fill="#FDB462"/>
<path d="M156.8 305.4L167.2 305.4L162.0 296.6Z" fill="#FDB462"/>
<path d="M171.3 304.3L179.1 304.3L175.2 297.7Z" fill="#FDB462"/>
<path d="M161.1 296.2L168.9 296.2L165.0 289.6Z" fill="#FDB462"/>
<rect x="129.7" y="311.6" width="7.9" height="7.9" fill="#7FC97F"/>
<path d="M136.4 318.6L146.8 318.6L141.6 309.7Z" fill="#FDB462"/>
<path d="M124.7 325.1L135.1 325.1L129.9 316.2Z" fill="#FDB462"/>
<path d="M140.0 323.6L150.4 323.6L145.2 314.8Z" fill="#FDB462"/>
<path d="M141.5 328.8L151.9 328.8L146.7 319.9Z" fill="#FDB462"/>
<rect x="143.5" y="308.7" width="7.9" height="7.9" fill="#7FC97F"/>
<rect x="156.7" y="309.4" width="7.9" height="7.9" fill="#7FC97F"/>
<rect x="131.1" y="320.4" width="7.9" height="7.9" fill="#7FC97F"/>
<path d="M135.7 329.4L146.1 329.4L140.9 320.6Z" fill="#FDB462"/>
<rect x="153.8" y="323.2" width="7.9" height="7.9" fill="#7FC97F"/>
<path d="M164.1 322.1L174.5 322.1L169.3 313.2Z" fill="#FDB462"/>
<rect x="164.0" y="307.2" width="7.9" height="7.9" fill="#7FC97F"/>
<rect x="169.8" y="304.2" width="7.9" height="7.9" fill="#7FC97F"/>
<rect x="162.5" y="319.7" width="7.9" height="7.9" fill="#7FC97F"/>
<rect x="169.8" y="319.7" width="7.9" height="7.9" fill="#7FC97F"/>
<path d="M170.0 319.2L180.4 319.2L175.2 310.4Z" fill="#FDB462"/>
<path d="M117.8 345.8L128.2 345.8L123.0 336.9Z" fill="#FDB462"/>
<rect x="105.8" y="348.2" width="7.9" height="7.9" fill="#7FC97F"/>
<path d="M135.0 365.6L145.4 365.6L140.2 356.7Z" fill="#FDB462"/>
<rect x="131.5" y="326.6" width="7.9" height="7.9" fill="#7FC97F"/>
<path d="M130.2 340.1L140.6 340.1L135.4 331.2Z" fill="#FDB462"/>
<path d="M134.6 339.2L145.0 339.2L139.8 330.4Z" fill="#FDB462"/>
<rect x="144.6" y="329.4" width="7.9" height="7.9" fill="#7FC97F"/>
<rect x="144.6" y="337.4" width="7.9" height="7.9" fill="#7FC97F"/>
<rect x="150.5" y="336.1" width="7.9" height="7.9" fill="#7FC97F"/>
<rect x="144.6" y="350.6" width="7.9" height="7.9" fill="#7FC97F"/>
<rect x="144.6" y="345.4" width="7.9" height="7.9" fill="#7FC97F"/>
<path d="M149.9 353.1L160.3 353.1L155.1 344.2Z" fill="#FDB462"/>
<rect x="154.6" y="353.6" width="7.9" height="7.9" fill="#7FC97F"/>
<path d="M149.9 337.1L160.3 337.1L155.1 328.2Z" fill="#FDB462"/>
<rect x="160.7" y="330.2" width="7.9" height="7.9" fill="#7FC97F"/>
<path d="M163.8 337.8L174.2 337.8L169.0 328.9Z" fill="#FDB462"/>
<path d="M159.4 345.8L169.8 345.8L164.6 336.9Z" fill="#FDB462"/>
<rect x="163.6" y="341.9" width="7.9" height="7.9" fill="#7FC97F"/>
<rect x="172.4" y="341.9" width="7.9" height="7.9" fill="#7FC97F"/>
<path d="M171.1 358.9L181.5 358.9L176.3 350.1Z" fill="#FDB462"/>
<rect x="380.4" y="312.2" width="7.9" height="7.9" fill="#7FC97F"/>
<rect x="382.4" y="314.7" width="7.9" height="7.9" fill="#7FC97F"/>
<rect x="408.9" y="309.1" width="7.9" height="7.9" fill="#7FC97F"/>
<rect x="407.4" y="318.8" width="7.9" height="7.9" fill="#7FC97F"/>
<circle cx="214.2" cy="257.9" r="1.8" fill="#386CB0"/>
<circle cx="204.7" cy="269.6" r="1.8" fill="#386CB0"/>
<circle cx="220.1" cy="272.5" r="1.8" fill="#386CB0"/>
<circle cx="196.7" cy="276.2" r="1.8" fill="#386CB0"/>
<rect x="190.7" y="266.0" width="4" height="4" fill="#fff"/>
<rect x="193.0" y="278.0" width="4" height="4" fill="#fff"/>
<rect x="216.0" y="277.0" width="4" height="4" fill="#fff"/>
<rect x="223.0" y="257.0" width="4" height="4" fill="#fff"/>
<rect x="189.5" y="288.0" width="4" height="4" fill="#fff"/>
<circle cx="212.8" cy="229.8" r="2.5" fill="#386CB0"/>
<circle cx="201.8" cy="235.0" r="1.8" fill="#386CB0"/>
<circle cx="190.9" cy="243.7" r="1.8" fill="#386CB0"/>
<circle cx="225.2" cy="248.1" r="1.8" fill="#386CB0"/>
<rect x="195.4" y="231.9" width="4" height="4" fill="#fff"/>
<rect x="189.2" y="246.8" width="4" height="4" fill="#fff"/>
<circle cx="127.8" cy="72.4" r="4" fill="#386CB0"/>
<circle cx="133.6" cy="75.8" r="4" fill="#386CB0"/>
<circle cx="123.7" cy="83.4" r="4" fill="#386CB0"/>
<circle cx="125.2" cy="86.0" r="4" fill="#386CB0"/>
<circle cx="147.8" cy="85.5" r="4" fill="#386CB0"/>
<circle cx="101.5" cy="93.3" r="4" fill="#386CB0"/>
<circle cx="112.5" cy="95.8" r="4" fill="#386CB0"/>
<circle cx="123.4" cy="101.6" r="4" fill="#386CB0"/>
<circle cx="139.5" cy="99.4" r="4" fill="#386CB0"/>
<circle cx="145.9" cy="108.9" r="4" fill="#386CB0"/>
<rect x="104.2" y="165.0" width="4" height="4" fill="#fff"/>
<circle cx="103.5" cy="195.5" r="2.5" fill="#386CB0"/>
<rect x="112.2" y="188.5" width="4" height="4" fill="#fff"/>
<rect x="112.2" y="186.0" width="4" height="4" fill="#fff"/>
<rect x="107.5" y="202.4" width="4" height="4" fill="#fff"/>
<rect x="117.3" y="179.0" width="4" height="4" fill="#fff"/>
<circle cx="116.8" cy="176.6" r="1.8" fill="#386CB0"/>
<circle cx="113.5" cy="173.4" r="1.8" fill="#386CB0"/>
<circle cx="133.6" cy="178.1" r="2.5" fill="#386CB0"/>
<circle cx="157.7" cy="175.2" r="2.5" fill="#386CB0"/>
<circle cx="155.5" cy="182.5" r="1.8" fill="#386CB0"/>
<circle cx="165.0" cy="188.8" r="1.8" fill="#386CB0"/>
<circle cx="130.6" cy="190.5" r="1.8" fill="#386CB0"/>
<circle cx="159.1" cy="196.4" r="1.8" fill="#386CB0"/>
<circle cx="156.2" cy="197.8" r="1.8" fill="#386CB0"/>
<circle cx="176.6" cy="184.7" r="1.8" fill="#386CB0"/>
<circle cx="159.1" cy="210.2" r="1.8" fill="#386CB0"/>
<rect x="173.5" y="194.0" width="4" height="4" fill="#fff"/>
<rect x="174.0" y="206.0" width="4" height="4" fill="#fff"/>
<rect x="102.7" y="215.8" width="4" height="4" fill="#fff"/>
<rect x="106.4" y="237.7" width="4" height="4" fill="#fff"/>
<rect x="159.0" y="211.5" width="4" height="4" fill="#fff"/>
<rect x="161.5" y="215.0" width="4" height="4" fill="#fff"/>
<rect x="165.9" y="225.3" width="4" height="4" fill="#fff"/>
<rect x="172.4" y="216.6" width="4" height="4" fill="#fff"/>
<circle cx="173.7" cy="231.7" r="1.8" fill="#386CB0"/>
<circle cx="151.1" cy="223.7" r="1.8" fill="#386CB0"/>
<circle cx="165.7" cy="226.6" r="1.8" fill="#386CB0"/>
<circle cx="165.0" cy="243.4" r="1.8" fill="#386CB0"/>
<circle cx="170.1" cy="212.7" r="1.8" fill="#386CB0"/>
<rect x="118.8" y="252.6" width="4" height="4" fill="#fff"/>
<rect x="115.5" y="256.3" width="4" height="4" fill="#fff"/>
<circle cx="116.4" cy="267.8" r="1.8" fill="#386CB0"/>
<circle cx="122.3" cy="287.5" r="1.8" fill="#386CB0"/>
<circle cx="158.4" cy="285.3" r="2.5" fill="#386CB0"/>
<circle cx="151.1" cy="289.0" r="1.8" fill="#386CB0"/>
<rect x="138.1" y="266.5" width="4" height="4" fill="#fff"/>
<rect x="148.4" y="284.8" width="4" height="4" fill="#fff"/>
<rect x="159.3" y="282.6" width="4" height="4" fill="#fff"/>
<rect x="117.3" y="297.5" width="4" height="4" fill="#fff"/>
<circle cx="148.2" cy="293.3" r="1.8" fill="#386CB0"/>
<circle cx="128.5" cy="292.9" r="1.8" fill="#386CB0"/>
<circle cx="131.6" cy="161.5" r="1.8" fill="#386CB0"/>
<line x1="85.6" y1="219.2" x2="644.1" y2="449.4" stroke="#000" stroke-width="2.1"/>
<text x="67.2" y="479.5" font-size="17.7" letter-spacing="-0.35" fill="#4D4D4D" text-anchor="end">0</text>
<text x="67.2" y="370.8" font-size="17.7" letter-spacing="-0.35" fill="#4D4D4D" text-anchor="end">25</text>
<text x="67.2" y="262.1" font-size="17.7" letter-spacing="-0.35" fill="#4D4D4D" text-anchor="end">50</text>
<text x="67.2" y="153.3" font-size="17.7" letter-spacing="-0.35" fill="#4D4D4D" text-anchor="end">75</text>
<text x="67.2" y="44.6" font-size="17.7" letter-spacing="-0.35" fill="#4D4D4D" text-anchor="end">100</text>
<text x="77.2" y="496.5" font-size="17.7" letter-spacing="-0.35" fill="#4D4D4D" text-anchor="middle">0</text>
<text x="221.8" y="496.5" font-size="17.7" letter-spacing="-0.35" fill="#4D4D4D" text-anchor="middle">5000</text>
<text x="366.3" y="496.5" font-size="17.7" letter-spacing="-0.35" fill="#4D4D4D" text-anchor="middle">10000</text>
<text x="510.9" y="496.5" font-size="17.7" letter-spacing="-0.35" fill="#4D4D4D" text-anchor="middle">15000</text>
<text x="655.5" y="496.5" font-size="17.7" letter-spacing="-0.35" fill="#4D4D4D" text-anchor="middle">20000</text>
<text x="381.3" y="536" font-size="21.6" fill="#000" text-anchor="middle">Knottiness</text>
<text transform="translate(22.9,431.4) rotate(-90)" font-size="21.5" fill="#000" text-anchor="start">Bending strength of boards (Nmm<tspan font-size="15" dy="-11.2" dx="0.7">−2</tspan><tspan dy="11.2" dx="1.3">)</tspan></text>
<text x="364.85" y="89.8" font-size="21.8" font-style="italic" fill="#000">y</text>
<text x="397.95" y="89.8" font-size="21.8" fill="#000">59.2</text>
<text x="459.75" y="89.8" font-size="21.8" fill="#000">0.00274</text>
<text x="544.3" y="89.8" font-size="21.8" font-style="italic" fill="#000">x</text>
<text x="555.85" y="89.8" font-size="21.8" fill="#000">,</text>
<text x="568.25" y="89.8" font-size="21.8" font-style="italic" fill="#000">R</text>
<text x="585.2" y="79.4" font-size="15" fill="#000">2</text>
<text x="616.85" y="89.8" font-size="21.8" fill="#000">0.22</text>
<path d="M380.8 82.3h10.8v1.8h-10.8zM380.8 85.9h10.8v1.8h-10.8zM599.6 82.3h10.8v1.8h-10.8zM599.6 85.9h10.8v1.8h-10.8zM444.0 83.3h11.7v1.8h-11.7z" fill="#000"/>
<circle cx="275" cy="7.6" r="5" fill="#386CB0"/>
<path d="M403.8 0.2L410.4 11.6L397.2 11.6Z" fill="#FDB462"/>
<rect x="560.5" y="2.5" width="10" height="10" fill="#7FC97F"/>
<text x="296.8" y="13.8" font-size="17.5" fill="#000">Douglas fir</text>
<text x="426.4" y="13.8" font-size="17.5" fill="#000">Norway spruce</text>
<text x="587.2" y="13.8" font-size="17.5" fill="#000">Sitka spruce</text>
</svg></body></html>
